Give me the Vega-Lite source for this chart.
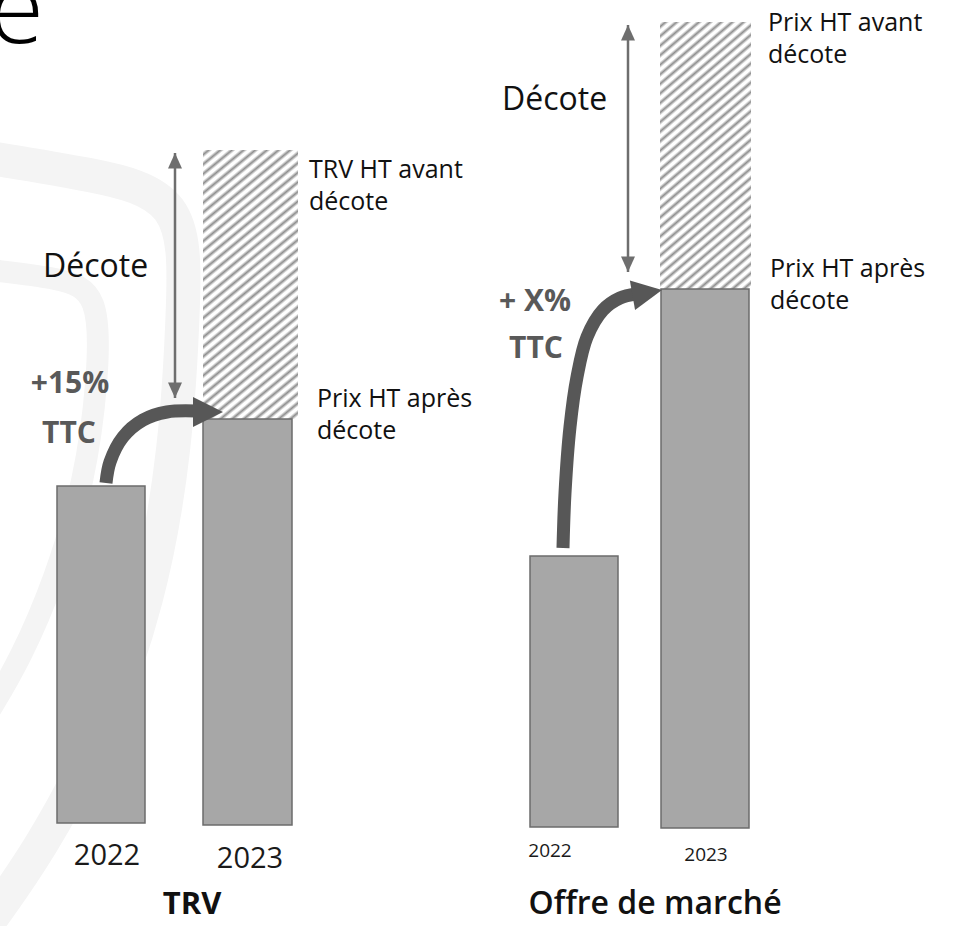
{
  "$schema": "https://vega.github.io/schema/vega-lite/v6.json",
  "width": 955,
  "height": 926,
  "padding": 0,
  "autosize": {"type": "none"},
  "background": "white",
  "config": {"view": {"stroke": null}, "font": "Open Sans"},
  "datasets": {
    "watermark": [
      {"band": "outer", "i": 0, "x": -10, "y": 158},
      {"band": "outer", "i": 1, "x": 90, "y": 174},
      {"band": "outer", "i": 2, "x": 185, "y": 196},
      {"band": "outer", "i": 3, "x": 184, "y": 300},
      {"band": "outer", "i": 4, "x": 176, "y": 450},
      {"band": "outer", "i": 5, "x": 150, "y": 600},
      {"band": "outer", "i": 6, "x": 100, "y": 740},
      {"band": "outer", "i": 7, "x": 40, "y": 850},
      {"band": "outer", "i": 8, "x": -10, "y": 920},
      {"band": "inner", "i": 0, "x": -10, "y": 270},
      {"band": "inner", "i": 1, "x": 60, "y": 278},
      {"band": "inner", "i": 2, "x": 100, "y": 292},
      {"band": "inner", "i": 3, "x": 98, "y": 380},
      {"band": "inner", "i": 4, "x": 85, "y": 480},
      {"band": "inner", "i": 5, "x": 55, "y": 580},
      {"band": "inner", "i": 6, "x": 20, "y": 660},
      {"band": "inner", "i": 7, "x": -10, "y": 710}
    ],
    "bars": [
      {"panel": "TRV", "year": "2022", "kind": "solid", "x": 57, "x2": 145, "y": 486, "y2": 823},
      {"panel": "TRV", "year": "2023", "kind": "solid", "x": 203, "x2": 292, "y": 419, "y2": 825},
      {"panel": "TRV", "year": "2023", "kind": "hatch", "x": 203, "x2": 298, "y": 150, "y2": 419},
      {"panel": "Offre", "year": "2022", "kind": "solid", "x": 530, "x2": 618, "y": 556, "y2": 827},
      {"panel": "Offre", "year": "2023", "kind": "solid", "x": 661, "x2": 749, "y": 289, "y2": 828},
      {"panel": "Offre", "year": "2023", "kind": "hatch", "x": 660, "x2": 751, "y": 22, "y2": 289}
    ],
    "decote": [
      {"panel": "TRV", "x": 175, "y": 153, "y2": 398},
      {"panel": "Offre", "x": 628, "y": 25, "y2": 272}
    ],
    "curve": [
      {"panel": "TRV", "i": 0, "x": 106, "y": 483},
      {"panel": "TRV", "i": 1, "x": 110, "y": 462},
      {"panel": "TRV", "i": 2, "x": 123, "y": 437},
      {"panel": "TRV", "i": 3, "x": 143, "y": 420},
      {"panel": "TRV", "i": 4, "x": 167, "y": 412},
      {"panel": "TRV", "i": 5, "x": 196, "y": 411},
      {"panel": "Offre", "i": 0, "x": 563, "y": 548},
      {"panel": "Offre", "i": 1, "x": 565, "y": 493},
      {"panel": "Offre", "i": 2, "x": 570, "y": 427},
      {"panel": "Offre", "i": 3, "x": 577, "y": 377},
      {"panel": "Offre", "i": 4, "x": 587, "y": 337},
      {"panel": "Offre", "i": 5, "x": 603, "y": 310},
      {"panel": "Offre", "i": 6, "x": 620, "y": 298},
      {"panel": "Offre", "i": 7, "x": 636, "y": 294}
    ],
    "heads": [
      {"panel": "TRV", "x": 223, "y": 412},
      {"panel": "Offre", "x": 662, "y": 290}
    ],
    "labels": [
      {"style": "title", "text": "e", "x": 44, "y": 43},
      {"style": "decote", "text": "Décote", "x": 43, "y": 277},
      {"style": "decote", "text": "Décote", "x": 502, "y": 110},
      {"style": "note", "text": "TRV HT avant\ndécote", "x": 309, "y": 178},
      {"style": "note", "text": "Prix HT après\ndécote", "x": 317, "y": 407},
      {"style": "note", "text": "Prix HT avant\ndécote", "x": 768, "y": 31},
      {"style": "note", "text": "Prix HT après\ndécote", "x": 770, "y": 277},
      {"style": "pct", "text": "+15%", "x": 70, "y": 393},
      {"style": "pct", "text": "TTC", "x": 69, "y": 443},
      {"style": "pct", "text": "+ X%", "x": 535, "y": 311},
      {"style": "pct", "text": "TTC", "x": 536, "y": 358},
      {"style": "yearBig", "text": "2022", "x": 107, "y": 865},
      {"style": "yearBig", "text": "2023", "x": 250, "y": 868},
      {"style": "yearSmall", "text": "2022", "x": 550, "y": 857},
      {"style": "yearSmall", "text": "2023", "x": 706, "y": 861},
      {"style": "panelBold", "text": "TRV", "x": 192, "y": 914},
      {"style": "panelSemi", "text": "Offre de marché", "x": 655, "y": 914}
    ]
  },
  "layer": [
    {
      "data": {"name": "watermark"},
      "transform": [{"filter": "datum.band == 'outer'"}],
      "mark": {"type": "line", "interpolate": "basis", "color": "#f4f4f4", "strokeWidth": 34, "strokeCap": "butt", "clip": true},
      "encoding": {
        "x": {"field": "x", "type": "quantitative", "scale": {"domain": [0, 955], "nice": false, "zero": false}, "axis": null},
        "y": {"field": "y", "type": "quantitative", "scale": {"domain": [0, 926], "nice": false, "zero": false, "reverse": true}, "axis": null},
        "order": {"field": "i"}
      }
    },
    {
      "data": {"name": "watermark"},
      "transform": [{"filter": "datum.band == 'inner'"}],
      "mark": {"type": "line", "interpolate": "basis", "color": "#f4f4f4", "strokeWidth": 22, "strokeCap": "butt", "clip": true},
      "encoding": {
        "x": {"field": "x", "type": "quantitative", "axis": null},
        "y": {"field": "y", "type": "quantitative", "axis": null},
        "order": {"field": "i"}
      }
    },
    {
      "data": {"name": "bars"},
      "transform": [{"filter": "datum.kind == 'hatch'"}],
      "mark": {
        "type": "rect",
        "fill": {
          "gradient": "linear", "x1": 0, "y1": 0, "x2": 0.48, "y2": 1.646,
          "stops": [
            {"offset": 0, "color": "#ffffff"},
            {"offset": 0.003, "color": "#ffffff"}, {"offset": 0.01, "color": "#8e8e8e"}, {"offset": 0.017, "color": "#ffffff"},
            {"offset": 0.023, "color": "#ffffff"}, {"offset": 0.03, "color": "#8e8e8e"}, {"offset": 0.037, "color": "#ffffff"},
            {"offset": 0.043, "color": "#ffffff"}, {"offset": 0.05, "color": "#8e8e8e"}, {"offset": 0.057, "color": "#ffffff"},
            {"offset": 0.063, "color": "#ffffff"}, {"offset": 0.07, "color": "#8e8e8e"}, {"offset": 0.077, "color": "#ffffff"},
            {"offset": 0.083, "color": "#ffffff"}, {"offset": 0.09, "color": "#8e8e8e"}, {"offset": 0.097, "color": "#ffffff"},
            {"offset": 0.103, "color": "#ffffff"}, {"offset": 0.11, "color": "#8e8e8e"}, {"offset": 0.117, "color": "#ffffff"},
            {"offset": 0.123, "color": "#ffffff"}, {"offset": 0.13, "color": "#8e8e8e"}, {"offset": 0.137, "color": "#ffffff"},
            {"offset": 0.143, "color": "#ffffff"}, {"offset": 0.15, "color": "#8e8e8e"}, {"offset": 0.157, "color": "#ffffff"},
            {"offset": 0.163, "color": "#ffffff"}, {"offset": 0.17, "color": "#8e8e8e"}, {"offset": 0.177, "color": "#ffffff"},
            {"offset": 0.183, "color": "#ffffff"}, {"offset": 0.19, "color": "#8e8e8e"}, {"offset": 0.197, "color": "#ffffff"},
            {"offset": 0.203, "color": "#ffffff"}, {"offset": 0.21, "color": "#8e8e8e"}, {"offset": 0.217, "color": "#ffffff"},
            {"offset": 0.223, "color": "#ffffff"}, {"offset": 0.23, "color": "#8e8e8e"}, {"offset": 0.237, "color": "#ffffff"},
            {"offset": 0.243, "color": "#ffffff"}, {"offset": 0.25, "color": "#8e8e8e"}, {"offset": 0.257, "color": "#ffffff"},
            {"offset": 0.263, "color": "#ffffff"}, {"offset": 0.27, "color": "#8e8e8e"}, {"offset": 0.277, "color": "#ffffff"},
            {"offset": 0.283, "color": "#ffffff"}, {"offset": 0.29, "color": "#8e8e8e"}, {"offset": 0.297, "color": "#ffffff"},
            {"offset": 0.303, "color": "#ffffff"}, {"offset": 0.31, "color": "#8e8e8e"}, {"offset": 0.317, "color": "#ffffff"},
            {"offset": 0.323, "color": "#ffffff"}, {"offset": 0.33, "color": "#8e8e8e"}, {"offset": 0.337, "color": "#ffffff"},
            {"offset": 0.343, "color": "#ffffff"}, {"offset": 0.35, "color": "#8e8e8e"}, {"offset": 0.357, "color": "#ffffff"},
            {"offset": 0.363, "color": "#ffffff"}, {"offset": 0.37, "color": "#8e8e8e"}, {"offset": 0.377, "color": "#ffffff"},
            {"offset": 0.383, "color": "#ffffff"}, {"offset": 0.39, "color": "#8e8e8e"}, {"offset": 0.397, "color": "#ffffff"},
            {"offset": 0.403, "color": "#ffffff"}, {"offset": 0.41, "color": "#8e8e8e"}, {"offset": 0.417, "color": "#ffffff"},
            {"offset": 0.423, "color": "#ffffff"}, {"offset": 0.43, "color": "#8e8e8e"}, {"offset": 0.437, "color": "#ffffff"},
            {"offset": 0.443, "color": "#ffffff"}, {"offset": 0.45, "color": "#8e8e8e"}, {"offset": 0.457, "color": "#ffffff"},
            {"offset": 0.463, "color": "#ffffff"}, {"offset": 0.47, "color": "#8e8e8e"}, {"offset": 0.477, "color": "#ffffff"},
            {"offset": 0.483, "color": "#ffffff"}, {"offset": 0.49, "color": "#8e8e8e"}, {"offset": 0.497, "color": "#ffffff"},
            {"offset": 0.503, "color": "#ffffff"}, {"offset": 0.51, "color": "#8e8e8e"}, {"offset": 0.517, "color": "#ffffff"},
            {"offset": 0.523, "color": "#ffffff"}, {"offset": 0.53, "color": "#8e8e8e"}, {"offset": 0.537, "color": "#ffffff"},
            {"offset": 0.543, "color": "#ffffff"}, {"offset": 0.55, "color": "#8e8e8e"}, {"offset": 0.557, "color": "#ffffff"},
            {"offset": 0.563, "color": "#ffffff"}, {"offset": 0.57, "color": "#8e8e8e"}, {"offset": 0.577, "color": "#ffffff"},
            {"offset": 0.583, "color": "#ffffff"}, {"offset": 0.59, "color": "#8e8e8e"}, {"offset": 0.597, "color": "#ffffff"},
            {"offset": 0.603, "color": "#ffffff"}, {"offset": 0.61, "color": "#8e8e8e"}, {"offset": 0.617, "color": "#ffffff"},
            {"offset": 0.623, "color": "#ffffff"}, {"offset": 0.63, "color": "#8e8e8e"}, {"offset": 0.637, "color": "#ffffff"},
            {"offset": 0.643, "color": "#ffffff"}, {"offset": 0.65, "color": "#8e8e8e"}, {"offset": 0.657, "color": "#ffffff"},
            {"offset": 0.663, "color": "#ffffff"}, {"offset": 0.67, "color": "#8e8e8e"}, {"offset": 0.677, "color": "#ffffff"},
            {"offset": 0.683, "color": "#ffffff"}, {"offset": 0.69, "color": "#8e8e8e"}, {"offset": 0.697, "color": "#ffffff"},
            {"offset": 0.703, "color": "#ffffff"}, {"offset": 0.71, "color": "#8e8e8e"}, {"offset": 0.717, "color": "#ffffff"},
            {"offset": 0.723, "color": "#ffffff"}, {"offset": 0.73, "color": "#8e8e8e"}, {"offset": 0.737, "color": "#ffffff"},
            {"offset": 0.743, "color": "#ffffff"}, {"offset": 0.75, "color": "#8e8e8e"}, {"offset": 0.757, "color": "#ffffff"},
            {"offset": 1, "color": "#ffffff"}
          ]
        }
      },
      "encoding": {
        "x": {"field": "x", "type": "quantitative", "axis": null},
        "x2": {"field": "x2"},
        "y": {"field": "y", "type": "quantitative", "axis": null},
        "y2": {"field": "y2"}
      }
    },
    {
      "data": {"name": "bars"},
      "transform": [{"filter": "datum.kind == 'solid'"}],
      "mark": {"type": "rect", "fill": "#a7a7a7", "stroke": "#6c6c6c", "strokeWidth": 1.5},
      "encoding": {
        "x": {"field": "x", "type": "quantitative", "axis": null},
        "x2": {"field": "x2"},
        "y": {"field": "y", "type": "quantitative", "axis": null},
        "y2": {"field": "y2"}
      }
    },
    {
      "data": {"name": "decote"},
      "mark": {"type": "rule", "color": "#6e6e6e", "strokeWidth": 2.5},
      "encoding": {
        "x": {"field": "x", "type": "quantitative", "axis": null},
        "y": {"field": "y", "type": "quantitative", "axis": null},
        "y2": {"field": "y2"}
      }
    },
    {
      "data": {"name": "decote"},
      "mark": {"type": "point", "shape": "M0,0L1,2.2L-1,2.2Z", "size": 196, "filled": true, "color": "#6e6e6e", "opacity": 1},
      "encoding": {
        "x": {"field": "x", "type": "quantitative", "axis": null},
        "y": {"field": "y", "type": "quantitative", "axis": null}
      }
    },
    {
      "data": {"name": "decote"},
      "mark": {"type": "point", "shape": "M0,0L1,-2.2L-1,-2.2Z", "size": 196, "filled": true, "color": "#6e6e6e", "opacity": 1},
      "encoding": {
        "x": {"field": "x", "type": "quantitative", "axis": null},
        "y": {"field": "y2", "type": "quantitative", "axis": null}
      }
    },
    {
      "data": {"name": "curve"},
      "mark": {"type": "line", "interpolate": "catmull-rom", "color": "#575757", "strokeWidth": 13, "strokeCap": "butt"},
      "encoding": {
        "x": {"field": "x", "type": "quantitative", "axis": null},
        "y": {"field": "y", "type": "quantitative", "axis": null},
        "detail": {"field": "panel"},
        "order": {"field": "i"}
      }
    },
    {
      "data": {"name": "heads"},
      "transform": [{"filter": "datum.panel == 'TRV'"}],
      "mark": {"type": "point", "shape": "M0,0L-2,-1L-2,1Z", "size": 900, "filled": true, "color": "#575757", "opacity": 1},
      "encoding": {
        "x": {"field": "x", "type": "quantitative", "axis": null},
        "y": {"field": "y", "type": "quantitative", "axis": null}
      }
    },
    {
      "data": {"name": "heads"},
      "transform": [{"filter": "datum.panel == 'Offre'"}],
      "mark": {"type": "point", "shape": "M0,0L-2,-1L-2,1Z", "size": 900, "filled": true, "color": "#575757", "opacity": 1, "angle": 350},
      "encoding": {
        "x": {"field": "x", "type": "quantitative", "axis": null},
        "y": {"field": "y", "type": "quantitative", "axis": null}
      }
    },
    {
      "data": {"name": "labels"},
      "transform": [{"filter": "datum.style == 'title'"}],
      "mark": {"type": "text", "align": "right", "baseline": "alphabetic", "fontSize": 100, "fontWeight": 300, "color": "#000000"},
      "encoding": {
        "x": {"field": "x", "type": "quantitative", "axis": null},
        "y": {"field": "y", "type": "quantitative", "axis": null},
        "text": {"field": "text"}
      }
    },
    {
      "data": {"name": "labels"},
      "transform": [{"filter": "datum.style == 'decote'"}],
      "mark": {"type": "text", "align": "left", "baseline": "alphabetic", "fontSize": 32, "color": "#111111"},
      "encoding": {
        "x": {"field": "x", "type": "quantitative", "axis": null},
        "y": {"field": "y", "type": "quantitative", "axis": null},
        "text": {"field": "text"}
      }
    },
    {
      "data": {"name": "labels"},
      "transform": [{"filter": "datum.style == 'note'"}],
      "mark": {"type": "text", "align": "left", "baseline": "alphabetic", "fontSize": 25, "lineBreak": "\n", "lineHeight": 32, "color": "#111111"},
      "encoding": {
        "x": {"field": "x", "type": "quantitative", "axis": null},
        "y": {"field": "y", "type": "quantitative", "axis": null},
        "text": {"field": "text"}
      }
    },
    {
      "data": {"name": "labels"},
      "transform": [{"filter": "datum.style == 'pct'"}],
      "mark": {"type": "text", "align": "center", "baseline": "alphabetic", "fontSize": 30, "fontWeight": "bold", "color": "#595959"},
      "encoding": {
        "x": {"field": "x", "type": "quantitative", "axis": null},
        "y": {"field": "y", "type": "quantitative", "axis": null},
        "text": {"field": "text"}
      }
    },
    {
      "data": {"name": "labels"},
      "transform": [{"filter": "datum.style == 'yearBig'"}],
      "mark": {"type": "text", "align": "center", "baseline": "alphabetic", "fontSize": 29, "color": "#1a1a1a"},
      "encoding": {
        "x": {"field": "x", "type": "quantitative", "axis": null},
        "y": {"field": "y", "type": "quantitative", "axis": null},
        "text": {"field": "text"}
      }
    },
    {
      "data": {"name": "labels"},
      "transform": [{"filter": "datum.style == 'yearSmall'"}],
      "mark": {"type": "text", "align": "center", "baseline": "alphabetic", "fontSize": 19, "color": "#1a1a1a"},
      "encoding": {
        "x": {"field": "x", "type": "quantitative", "axis": null},
        "y": {"field": "y", "type": "quantitative", "axis": null},
        "text": {"field": "text"}
      }
    },
    {
      "data": {"name": "labels"},
      "transform": [{"filter": "datum.style == 'panelBold'"}],
      "mark": {"type": "text", "align": "center", "baseline": "alphabetic", "fontSize": 31, "fontWeight": "bold", "color": "#111111"},
      "encoding": {
        "x": {"field": "x", "type": "quantitative", "axis": null},
        "y": {"field": "y", "type": "quantitative", "axis": null},
        "text": {"field": "text"}
      }
    },
    {
      "data": {"name": "labels"},
      "transform": [{"filter": "datum.style == 'panelSemi'"}],
      "mark": {"type": "text", "align": "center", "baseline": "alphabetic", "fontSize": 32, "fontWeight": 600, "color": "#111111"},
      "encoding": {
        "x": {"field": "x", "type": "quantitative", "axis": null},
        "y": {"field": "y", "type": "quantitative", "axis": null},
        "text": {"field": "text"}
      }
    }
  ]
}
